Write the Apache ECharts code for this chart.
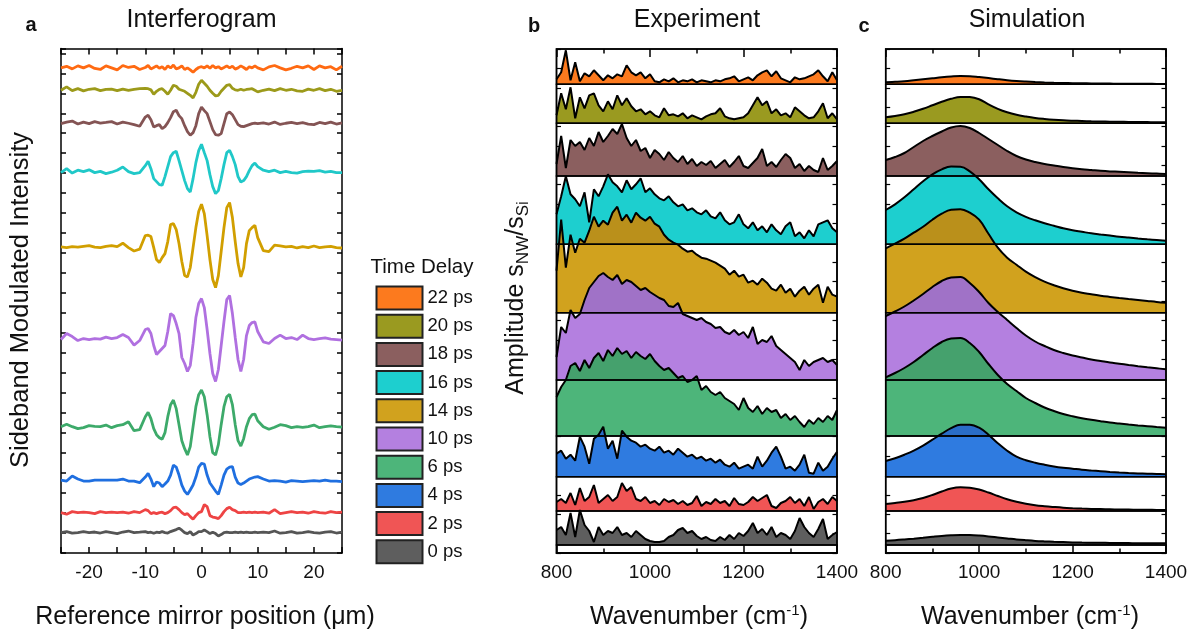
<!DOCTYPE html>
<html>
<head>
<meta charset="utf-8">
<title>Interferogram, Experiment, Simulation</title>
<script src="https://cdn.jsdelivr.net/npm/echarts@6/dist/echarts.min.js"></script>
<style>
  html, body { margin: 0; padding: 0; background: #fff; }
  #chart { width: 1200px; height: 631px; }
</style>
</head>
<body>
<div id="chart"></div>
<script>
// ---------- data ----------
const delays = ['22 ps', '20 ps', '18 ps', '16 ps', '14 ps', '10 ps', '6 ps', '4 ps', '2 ps', '0 ps'];
const fillColors = ['#FC7A1E', '#9A9A20', '#8B5F5F', '#1DCFCF', '#D1A21E', '#B480E0', '#4DB57A', '#2F7BE0', '#F05555', '#5E5E5E'];
const lineColors = ['#FF6A12', '#9C9A1A', '#845454', '#20C8C8', '#D19F00', '#B070E0', '#3DAA6A', '#1F6FE0', '#EE4444', '#555555'];

// panel a: interferograms (um), offset of each trace + deviation
const mirrorPos = [-25, -24, -23, -22, -21, -20, -19, -18, -17, -16, -15, -14, -13, -12, -11,
  -10, -9.5, -9, -8.5, -8, -7.5, -7, -6.5, -6, -5.5, -5, -4.5, -4, -3.5, -3, -2.5, -2, -1.5, -1, -0.5,
  0, 0.5, 1, 1.5, 2, 2.5, 3, 3.5, 4, 4.5, 5, 5.5, 6, 6.5, 7, 7.5, 8, 8.5, 9, 9.5, 10,
  11, 12, 13, 14, 15, 16, 17, 18, 19, 20, 21, 22, 23, 24, 25];
const traceOffsets = [24.27, 23.15, 21.48, 19.03, 15.28, 10.68, 6.32, 3.6, 2.02, 1.02];

const trace22 = [0, 0.08, -0.05, 0.1, 0, 0.12, -0.03, -0.08, 0.1, 0, -0.1, 0.12, 0.02, 0.08, -0.08,
  0.02, 0.12, -0.05, 0.02, 0.1, -0.02, 0.06, -0.08, 0.1, 0, 0.14, -0.05, 0, 0.1, -0.08, 0, -0.1, -0.22, -0.08, 0.02,
  0.06, 0, 0.1, -0.02, 0.12, 0, 0.06, -0.05, 0.02, 0.1, 0, 0.08, -0.06, 0, 0.1, 0.02, -0.08, 0.06, 0, 0.1, 0,
  -0.1, 0.05, 0.12, 0, -0.1, -0.02, 0.08, 0, 0.1, -0.08, 0.1, 0, 0.06, -0.1, 0.08];
const trace20 = [0, 0.17, -0.02, 0.08, -0.03, 0.05, 0.08, -0.02, 0.05, 0.06, -0.02, 0.06, 0, 0.05, 0.08,
  0.1, 0.08, 0.02, -0.2, -0.05, 0.05, 0.08, -0.05, -0.2, 0, 0.25, 0.2, 0.05, 0, -0.05, -0.15, -0.25, -0.38, -0.1, 0.3,
  0.5, 0.35, 0.2, 0, -0.15, -0.28, -0.25, -0.05, 0.1, 0.25, 0.28, 0.1, 0.02, 0, 0.05, 0, 0.04, 0.06, 0.08, 0, -0.08,
  0, 0.06, -0.02, 0.08, 0, 0.05, -0.03, -0.05, 0.06, 0, 0.08, -0.02, 0.05, -0.05, 0];
const trace18 = [0, 0.08, 0.13, -0.02, 0.08, 0, 0.1, 0.03, 0.06, 0.1, -0.02, 0.08, 0.02, -0.05, -0.13,
  0.33, 0.42, 0.2, -0.17, -0.1, -0.05, -0.25, -0.15, 0.05, 0.3, 0.6, 0.67, 0.4, 0.25, -0.1, -0.4, -0.58, -0.45, -0.1, 0.5,
  0.83, 0.65, 0.5, 0.1, -0.3, -0.55, -0.58, -0.5, 0, 0.5, 0.58, 0.45, 0.2, -0.05, -0.13, -0.15, -0.1, -0.05, 0, 0.03, 0,
  0.04, -0.02, 0.08, -0.04, 0.02, 0.06, 0, 0.05, -0.02, -0.05, 0.06, 0, 0.08, -0.02, 0.04];
const trace16 = [0, 0.2, -0.02, 0.12, 0.05, 0.14, 0, 0.06, -0.05, 0.02, 0.12, 0.28, 0.05, -0.05, 0,
  0.35, 0.57, 0.2, -0.3, -0.45, -0.6, -0.63, -0.2, 0.3, 0.8, 1.0, 1.07, 0.6, 0.1, -0.4, -0.8, -0.97, -0.3, 0.5, 1.1,
  1.42, 1.0, 0.6, -0.1, -0.7, -1.05, -0.9, -0.3, 0.4, 1.0, 1.12, 0.8, 0.4, -0.2, -0.47, -0.4, -0.2, 0.1, 0.35, 0.48, 0.3,
  0.12, 0.05, 0.12, 0, 0.06, 0, -0.02, 0.05, 0.08, 0.06, 0.1, 0.03, 0.06, 0, 0];
const trace14 = [0.03, 0, 0.05, 0.02, 0.06, 0.1, 0.02, 0, 0.06, 0.1, 0.05, 0.22, 0, -0.17, -0.08,
  0.6, 0.62, 0.55, 0, -0.6, -0.75, -0.5, -0.3, 0.3, 1.15, 1.2, 0.9, 0.2, -0.7, -1.4, -1.47, -1.0, 0, 1.0, 1.8,
  2.17, 1.7, 0.6, -0.6, -1.6, -2.0, -1.4, -0.2, 1.0, 2.0, 2.25, 1.5, 0.3, -0.8, -1.47, -1.0, 0.2, 0.85, 1.0, 1.12, 0.5,
  -0.15, -0.2, 0.12, 0.08, 0.03, 0.06, -0.02, 0.05, 0, 0.08, 0, 0.04, 0.06, 0, -0.02];
const trace10 = [0, 0.3, 0.15, -0.05, 0.05, 0, 0.05, 0.02, 0.12, 0.05, 0.1, 0.25, 0.1, -0.28, -0.05,
  0.5, 0.55, 0.3, -0.3, -0.75, -0.6, -0.45, -0.3, 0.4, 1.3, 1.2, 0.8, 0.3, -0.9, -1.2, -1.6, -1.3, -0.2, 1.1, 1.8,
  2.05, 1.6, 0.5, -0.7, -1.7, -2.1, -1.5, -0.3, 0.9, 2.0, 2.2, 1.3, 0.1, -1.0, -1.6, -1.0, 0.2, 0.7, 0.85, 0.88, 0.4,
  -0.12, -0.2, 0.05, 0.22, 0.05, 0.1, 0, 0.22, 0.05, 0, 0.04, 0.08, 0.02, 0, -0.03];
const trace6 = [0, 0.12, 0, -0.1, -0.05, 0.05, 0.02, 0, 0.08, -0.05, 0.05, 0.1, 0.25, -0.2, -0.15,
  0.5, 0.72, 0.4, -0.1, -0.4, -0.55, -0.63, -0.3, 0.5, 1.1, 1.33, 0.9, 0.1, -0.7, -1.1, -1.42, -1.0, 0, 1.0, 1.6,
  1.83, 1.5, 0.6, -0.5, -1.3, -1.42, -0.9, 0.1, 1.0, 1.5, 1.62, 1.1, 0.1, -0.7, -0.97, -0.6, 0, 0.4, 0.6, 0.63, 0.3,
  0, -0.13, -0.03, 0.1, 0.05, -0.05, 0, -0.03, 0, 0.08, -0.05, 0, 0.04, 0, -0.02];
const trace4 = [0.05, 0, 0.25, 0.1, 0, 0, 0.05, 0.05, 0.05, 0.05, 0.05, 0.1, 0, 0, -0.08,
  0.2, 0.38, 0.1, -0.28, -0.05, -0.1, -0.28, -0.15, 0, 0.3, 0.8, 0.7, 0.3, -0.2, -0.5, -0.67, -0.45, -0.2, 0.2, 0.7,
  0.88, 0.85, 0.3, -0.1, -0.3, -0.5, -0.67, -0.2, 0.3, 0.6, 0.7, 0.72, 0.2, -0.1, -0.17, -0.1, 0, 0.1, 0.15, 0.2, 0.22,
  0.1, 0, 0.02, 0, -0.05, 0.02, 0, -0.03, 0, 0.02, 0, 0.05, 0, 0, -0.03];
const trace2 = [0, -0.08, 0.05, 0, 0.03, 0, -0.05, 0.05, 0, 0.03, 0, 0.02, -0.03, 0.05, 0,
  0.15, 0.1, -0.05, 0, -0.05, 0, 0.02, -0.05, 0, 0.1, 0.25, 0.27, 0.15, 0, -0.1, -0.05, -0.2, -0.33, -0.15, 0,
  0.05, 0.4, 0.3, -0.15, -0.22, -0.25, -0.3, -0.15, 0.05, 0.2, 0.27, 0.15, 0.1, 0, 0, 0.02, 0, 0.02, 0, 0.02, 0,
  0.02, -0.03, 0.15, -0.05, 0, 0.05, 0, 0.03, -0.03, 0.05, 0, -0.03, 0.05, 0, 0.02];
const trace0 = [0, 0.05, -0.03, 0, 0.05, 0, 0.03, -0.02, 0.05, 0, -0.05, 0.03, 0.08, 0, 0.02,
  0.05, 0, 0.02, -0.03, 0.02, 0, 0.05, 0, -0.02, 0.05, 0.1, 0.15, 0.22, 0.12, 0, -0.05, 0.05, -0.12, -0.05, 0.05,
  0.05, 0.13, 0.05, -0.05, 0.02, -0.05, -0.17, -0.1, 0, 0.02, 0, 0, 0.02, 0, 0.03, 0, 0.02, 0, 0, 0.02, 0,
  0.02, 0, 0.08, -0.03, 0, 0.05, -0.03, 0, 0.05, 0, -0.03, 0.02, 0.05, -0.02, 0.02];
const traces = [trace22, trace20, trace18, trace16, trace14, trace10, trace6, trace4, trace2, trace0];

// panel b: measured amplitude spectra (cm-1)
const exptWn = [800, 810, 820, 830, 840, 850, 860, 870, 880, 890, 900, 910, 920, 930, 940, 950, 960, 970, 980, 990,
  1000, 1010, 1020, 1030, 1040, 1050, 1060, 1070, 1080, 1090, 1100, 1110, 1120, 1130, 1140, 1150, 1160, 1170, 1180, 1190,
  1200, 1210, 1220, 1230, 1240, 1250, 1260, 1270, 1280, 1290, 1300, 1310, 1320, 1330, 1340, 1350, 1360, 1370, 1380, 1390, 1400];
const expt22 = [5, 12, 34, 4, 22, 3, 11, 8, 14, 9, 4, 9, 6, 10, 8, 19, 12, 9, 12, 6, 10, 3, 2, 5, 3, 6, 2, 4, 3, 5,
  2, 4, 3, 2, 4, 3, 5, 6, 8, 3, 5, 7, 4, 9, 12, 14, 8, 13, 6, 4, 2, 7, 5, 6, 8, 10, 14, 8, 3, 12, 4];
const expt20 = [8, 30, 14, 36, 5, 26, 15, 28, 30, 18, 12, 22, 14, 28, 18, 25, 17, 12, 14, 9, 12, 8, 6, 15, 8, 9, 7, 10, 5, 8,
  6, 4, 7, 9, 10, 15, 7, 5, 4, 5, 6, 10, 18, 26, 18, 22, 10, 14, 8, 10, 6, 16, 12, 8, 5, 6, 12, 20, 5, 10, 4];
const expt18 = [12, 40, 8, 36, 30, 34, 26, 38, 30, 44, 34, 40, 47, 42, 52, 38, 30, 36, 25, 28, 18, 26, 22, 16, 24, 18, 14, 20, 12, 17,
  10, 14, 11, 15, 8, 12, 16, 9, 14, 20, 10, 8, 13, 18, 27, 10, 14, 9, 16, 22, 18, 8, 12, 5, 10, 6, 4, 18, 6, 10, 15];
const expt16 = [30, 48, 68, 50, 45, 38, 52, 22, 55, 48, 58, 70, 62, 58, 52, 64, 55, 60, 66, 52, 56, 50, 46, 44, 48, 42, 38, 40, 34, 36,
  32, 30, 34, 28, 26, 32, 24, 20, 22, 30, 20, 16, 22, 14, 18, 12, 20, 14, 10, 18, 22, 8, 12, 6, 14, 8, 20, 22, 24, 16, 12];
const expt14 = [42, 93, 45, 78, 60, 74, 70, 82, 96, 86, 92, 88, 100, 106, 92, 98, 90, 100, 95, 92, 96, 89, 86, 78, 73, 70, 68, 64, 61, 62,
  58, 55, 54, 52, 50, 47, 44, 38, 42, 36, 38, 30, 32, 28, 34, 30, 24, 22, 28, 20, 24, 16, 22, 26, 18, 24, 28, 10, 26, 18, 16];
const expt10 = [23, 53, 47, 70, 62, 66, 80, 92, 98, 104, 107, 103, 100, 105, 96, 100, 98, 94, 90, 92, 88, 85, 82, 80, 74, 73, 77, 66, 64, 62,
  60, 62, 58, 56, 52, 53, 48, 46, 50, 45, 48, 42, 53, 36, 40, 38, 44, 34, 30, 26, 22, 18, 10, 20, 14, 18, 20, 22, 18, 20, 15];
const expt6 = [39, 49, 56, 70, 73, 65, 76, 68, 78, 83, 75, 86, 80, 88, 82, 85, 78, 84, 80, 77, 82, 75, 70, 66, 68, 63, 58, 60, 54, 56,
  60, 46, 50, 44, 41, 44, 38, 35, 32, 26, 38, 28, 24, 30, 22, 28, 24, 26, 18, 22, 16, 20, 14, 9, 16, 12, 18, 14, 20, 16, 26];
const expt4 = [23, 26, 18, 22, 16, 40, 30, 13, 38, 42, 50, 28, 36, 18, 46, 40, 36, 34, 30, 32, 28, 26, 30, 24, 26, 22, 28, 24, 20, 22,
  18, 20, 16, 18, 14, 17, 12, 10, 14, 8, 10, 12, 8, 20, 10, 16, 24, 30, 20, 8, 10, 6, 12, 22, 4, 3, 14, 6, 10, 18, 25];
const expt2 = [9, 12, 8, 18, 6, 23, 10, 14, 26, 8, 12, 16, 10, 14, 28, 20, 24, 12, 10, 14, 8, 10, 6, 12, 9, 11, 7, 10, 6, 8,
  15, 5, 9, 7, 12, 8, 10, 5, 13, 7, 6, 9, 14, 10, 13, 16, 5, 3, 8, 10, 14, 8, 12, 5, 14, 2, 9, 12, 7, 14, 10];
const expt0 = [15, 18, 10, 32, 8, 35, 20, 14, 3, 18, 10, 14, 12, 18, 10, 12, 8, 14, 10, 6, 4, 3, 3, 4, 8, 10, 15, 17, 12, 14,
  9, 6, 8, 5, 4, 8, 5, 10, 6, 12, 9, 14, 22, 12, 16, 10, 18, 8, 12, 10, 6, 14, 27, 18, 12, 8, 16, 26, 6, 10, 13];
const expt = [expt22, expt20, expt18, expt16, expt14, expt10, expt6, expt4, expt2, expt0];

// panel c: simulated spectra
const simWn = [800, 820, 840, 860, 880, 900, 920, 940, 960, 980, 1000, 1020, 1040, 1060, 1080, 1100,
  1120, 1140, 1160, 1180, 1200, 1220, 1240, 1260, 1280, 1300, 1320, 1340, 1360, 1380, 1400];
const sim22 = [2.0, 2.5, 3.1, 4.0, 5.0, 6.0, 7.0, 7.8, 8.3, 8.1, 7.2, 6.2, 5.1, 4.1, 3.3, 2.7, 2.2, 1.8, 1.5, 1.3, 1.1, 1.0, 0.9, 0.8, 0.7, 0.6, 0.6, 0.5, 0.5, 0.4, 0.4];
const sim20 = [6.0, 7.3, 9.0, 11.5, 14.5, 18.0, 21.5, 24.5, 26.4, 26.2, 24.0, 19.0, 14.5, 11.0, 8.5, 6.8, 5.4, 4.4, 3.6, 3.0, 2.6, 2.3, 2.0, 1.8, 1.6, 1.5, 1.4, 1.3, 1.2, 1.1, 1.1];
const sim18 = [16, 19, 23, 29, 35, 40, 44.5, 48.5, 50, 48, 43, 37, 31, 25, 20, 16.5, 14, 12, 10.5, 9, 7.8, 6.8, 6, 5.2, 4.6, 4.2, 3.7, 3.2, 2.8, 2.4, 2.0];
const sim16 = [34.3, 40, 47, 55, 63, 70, 75, 77.7, 77.5, 73, 65, 55, 46, 38, 32, 27.5, 24, 21, 18.5, 16, 14, 12.5, 11, 9.8, 8.7, 7.6, 6.7, 5.8, 5, 4.3, 3.6];
const sim14 = [64.4, 69, 74, 80, 86, 93, 99, 103, 103.5, 100, 93, 79, 65, 55, 48, 41, 35.5, 31, 27.5, 24.5, 22, 20, 18.5, 17, 15.8, 14.7, 13.7, 12.8, 11.8, 10.8, 10];
const sim10 = [64, 68.5, 73.5, 79.5, 86, 93, 99, 102.5, 103, 97, 88, 77, 68, 60, 52, 44.5, 38.5, 34, 30, 27, 24.5, 22.5, 20.5, 19, 17.5, 16.3, 15, 13.8, 12.7, 11.7, 10.7];
const sim6 = [58.7, 63, 68, 74, 81, 88, 94, 97.5, 98, 93, 84, 72, 61, 52, 45, 38, 33, 28.5, 25, 22, 19.7, 17.8, 16.2, 14.8, 13.5, 12.5, 11.5, 10.6, 9.8, 9, 8.3];
const sim4 = [15.7, 18.5, 22, 26, 31, 37, 43, 48.5, 52, 52, 49, 42, 33.5, 26, 20, 16.5, 14, 12, 10.3, 9, 8, 7, 6.2, 5.5, 4.8, 4.2, 3.7, 3.3, 3, 2.7, 2.4];
const sim2 = [7, 8, 9.2, 10.8, 13, 16, 19.5, 22.5, 23.7, 23.3, 21.5, 18.5, 15, 11.8, 9.3, 7.3, 5.8, 4.8, 4, 3.3, 2.8, 2.4, 2.1, 1.9, 1.7, 1.5, 1.4, 1.3, 1.2, 1.1, 1];
const sim0 = [4.3, 4.8, 5.5, 6.3, 7.2, 8.2, 9.1, 9.7, 10, 9.9, 9.4, 8.6, 7.6, 6.6, 5.6, 4.8, 4.1, 3.6, 3.2, 2.9, 2.6, 2.4, 2.3, 2.2, 2.1, 2.0, 1.9, 1.8, 1.8, 1.7, 1.7];
const sim = [sim22, sim20, sim18, sim16, sim14, sim10, sim6, sim4, sim2, sim0];

// ---------- layout ----------
const FONT = '"Liberation Sans", Arial, sans-serif';
const bandTops = [49, 84.3, 123.3, 176, 244.3, 312.7, 380, 436, 476.7, 511, 545];
const plotBottom = 553;

const grid = [], xAxis = [], yAxis = [], series = [];
const black = {color: '#000', width: 1.5};
const plainNum = v => String(v);

function shade(hex, f) {
  const n = parseInt(hex.slice(1), 16);
  return 'rgb(' + Math.round(((n >> 16) & 255) * f) + ',' + Math.round(((n >> 8) & 255) * f) + ',' + Math.round((n & 255) * f) + ')';
}

// fill that turns a bit darker where it spills above its own box
function bandFill(color, topPx) {
  const dark = shade(color, 0.89);
  return {
    type: 'linear', global: true, x: 0, y: topPx - 1, x2: 0, y2: topPx + 1,
    colorStops: [
      {offset: 0, color: dark}, {offset: 0.5, color: dark},
      {offset: 0.5, color: color}, {offset: 1, color: color}
    ]
  };
}

// panel a
grid.push({left: 61, top: 48.5, width: 281, height: plotBottom - 48.5, show: false});
function frameAxis(extra) {
  return Object.assign({
    type: 'value',
    axisLine: {show: true, onZero: false, lineStyle: black},
    axisTick: {show: true, inside: true, length: 6, lineStyle: black},
    axisLabel: {show: false},
    splitLine: {show: false}
  }, extra);
}
xAxis.push(frameAxis({
  gridIndex: 0, min: -25, max: 25, interval: 5, position: 'bottom',
  axisLabel: {
    fontSize: 19, color: '#111', fontFamily: FONT, margin: 10,
    formatter: v => (v % 10 === 0 ? String(v) : '')
  }
}));
xAxis.push(frameAxis({gridIndex: 0, min: -25, max: 25, interval: 5, position: 'top'}));
yAxis.push(frameAxis({gridIndex: 0, min: 0, max: 25.24, interval: 1, position: 'left', axisTick: {inside: true, length: 5, lineStyle: black}}));
yAxis.push(frameAxis({gridIndex: 0, min: 0, max: 25.24, interval: 1, position: 'right', axisTick: {inside: true, length: 5, lineStyle: black}}));

traces.forEach((tr, k) => {
  series.push({
    name: delays[k], type: 'line', xAxisIndex: 0, yAxisIndex: 0,
    data: mirrorPos.map((x, i) => [x, traceOffsets[k] + tr[i]]),
    symbol: 'none', showSymbol: false,
    lineStyle: {color: lineColors[k], width: 2.8},
    itemStyle: {color: lineColors[k]}
  });
});

// panels b and c: stacked boxes
function addStack(left, width, xs, sets, smooth) {
  // outer frame with the shared ticks
  const gF = grid.length;
  grid.push({left: left, top: bandTops[0], width: width, height: plotBottom - bandTops[0], show: true, borderColor: '#000', borderWidth: 1.5, z: 10});
  xAxis.push({
    gridIndex: gF, type: 'value', min: 800, max: 1400, interval: 200, position: 'top',
    axisLine: {show: false, onZero: false}, axisLabel: {show: false}, splitLine: {show: false},
    axisTick: {show: true, inside: true, length: 8, lineStyle: black},
    minorTick: {show: true, splitNumber: 2, length: 4.5, lineStyle: black}
  });
  ['left', 'right'].forEach(pos => yAxis.push({
    gridIndex: gF, type: 'value', min: 0, max: 26, interval: 1, position: pos,
    axisLine: {show: false, onZero: false}, axisLabel: {show: false}, splitLine: {show: false},
    axisTick: {show: true, inside: true, length: 4.5, lineStyle: {color: '#000', width: 1.2}}
  }));

  sets.forEach((vals, k) => {
    const g = grid.length;
    const h = bandTops[k + 1] - bandTops[k];
    grid.push({left: left, top: bandTops[k], width: width, height: h, show: true, borderColor: '#000', borderWidth: 1.5, z: 10});
    const xi = xAxis.length, yi = yAxis.length;
    xAxis.push({gridIndex: g, type: 'value', min: 800, max: 1400, show: false});
    yAxis.push({gridIndex: g, type: 'value', min: 0, max: h, show: false});
    series.push({
      name: delays[k], type: 'line', xAxisIndex: xi, yAxisIndex: yi,
      data: xs.map((x, i) => [x, vals[i]]),
      symbol: 'none', showSymbol: false, smooth: smooth, clip: false,
      lineStyle: {color: '#000', width: 2},
      itemStyle: {color: fillColors[k]},
      areaStyle: {color: bandFill(fillColors[k], bandTops[k]), opacity: 1, origin: 'start'}
    });
  });

  // bottom strip carrying the wavenumber axis
  const gS = grid.length;
  grid.push({left: left, top: bandTops[10], width: width, height: plotBottom - bandTops[10], show: true, borderColor: '#000', borderWidth: 1.5, z: 10});
  xAxis.push({
    gridIndex: gS, type: 'value', min: 800, max: 1400, interval: 200, position: 'bottom',
    axisLine: {show: true, onZero: false, lineStyle: black}, splitLine: {show: false},
    axisTick: {show: true, inside: true, length: 8, lineStyle: black},
    minorTick: {show: true, splitNumber: 2, length: 4.5, lineStyle: black},
    axisLabel: {fontSize: 19, color: '#111', fontFamily: FONT, margin: 10, formatter: plainNum}
  });
  yAxis.push({gridIndex: gS, type: 'value', min: 0, max: 1, show: false});
}

addStack(556.5, 280.5, exptWn, expt, false);
addStack(885.7, 280.3, simWn, sim, 0.4);

// ---------- texts ----------
function label(text, x, y, size, opts) {
  opts = opts || {};
  return {
    type: 'text', x: x, y: y, rotation: opts.rotation || 0, z: 100, silent: true,
    style: {
      text: text, fontSize: size, fontFamily: FONT, fontWeight: opts.bold ? 'bold' : 'normal',
      fill: '#111', align: opts.align || 'center', verticalAlign: 'middle',
      textAlign: opts.align || 'center', textVerticalAlign: 'middle',
      lineHeight: opts.lineHeight, rich: opts.rich
    }
  };
}
const supRich = {sup: {fontSize: 15, lineHeight: 14, verticalAlign: 'top', fontFamily: FONT, fill: '#111'}};
const subRich = {sub: {fontSize: 17, lineHeight: 14, verticalAlign: 'bottom', fontFamily: FONT, fill: '#111'}};

const graphic = [
  label('a', 31, 25, 20, {bold: true}),
  label('b', 534, 26, 20, {bold: true}),
  label('c', 864, 26, 20, {bold: true}),
  label('Interferogram', 201.5, 20, 25),
  label('Experiment', 697, 20, 25),
  label('Simulation', 1027, 20, 25),
  label('Time Delay', 370.5, 267, 20.5, {align: 'left'}),
  label('Sideband Modulated Intensity', 21, 300, 25.5, {rotation: Math.PI / 2}),
  label('Amplitude s{sub|NW}/s{sub|Si}', 516, 298, 25, {rotation: Math.PI / 2, rich: subRich, lineHeight: 32}),
  label('Reference mirror position (\u03bcm)', 205, 617, 25),
  label('Wavenumber (cm{sup|-1})', 699, 617, 25, {rich: supRich, lineHeight: 28}),
  label('Wavenumber (cm{sup|-1})', 1030, 617, 25, {rich: supRich, lineHeight: 28})
];

const chart = echarts.init(document.getElementById('chart'), null, {renderer: 'canvas'});
chart.setOption({
  animation: false,
  backgroundColor: '#fff',
  textStyle: {fontFamily: FONT},
  legend: {
    orient: 'vertical', left: 370.5, top: 280.5,
    itemWidth: 46, itemHeight: 23, itemGap: 3.2, icon: 'rect',
    selectedMode: false,
    textStyle: {fontSize: 18.5, color: '#111', fontFamily: FONT},
    data: delays.map((d, k) => ({
      name: d, icon: 'rect',
      itemStyle: {color: fillColors[k], borderColor: '#222', borderWidth: 2}
    }))
  },
  grid: grid,
  xAxis: xAxis,
  yAxis: yAxis,
  series: series,
  graphic: graphic
});
</script>
</body>
</html>
